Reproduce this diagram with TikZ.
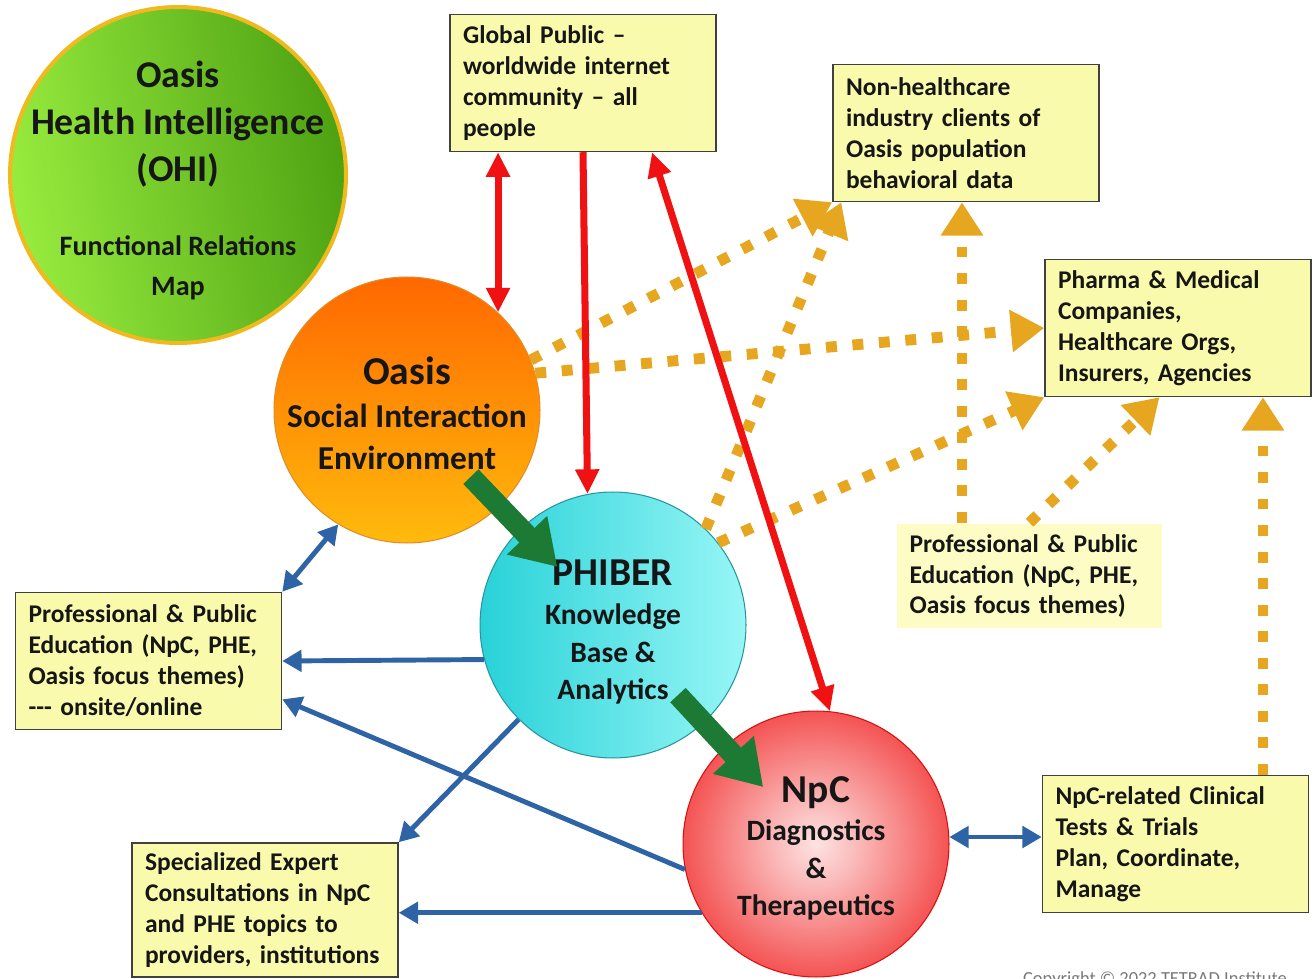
\documentclass[tikz,border=0pt]{standalone}
\usepackage{fontspec}
\setmainfont{Carlito}
\usetikzlibrary{shapes, arrows.meta, positioning, calc}

\definecolor{amarillo}{RGB}{250,250,172}
\definecolor{amarilloclaro}{RGB}{252,252,196}
\definecolor{borde}{RGB}{64,64,64}
\definecolor{tinta}{RGB}{22,22,22}
\definecolor{oro}{RGB}{230,166,32}
\definecolor{rojo}{RGB}{240,18,18}
\definecolor{azul}{RGB}{46,100,166}
\definecolor{verde}{RGB}{28,122,52}

\newcommand{\textocaja}{\bfseries\fontsize{14.5}{17.6}\selectfont}
\newcommand{\grande}{\fontsize{22.5}{27}\selectfont}
\newcommand{\medio}{\fontsize{16.8}{21.3}\selectfont}

\pgfdeclareradialshading{bolaroja}{\pgfpoint{0bp}{0bp}}{color(0bp)=(white!88!rojo); color(8bp)=(white!70!rojo); color(30bp)=(rojo!85!white); color(45bp)=(rojo); color(50bp)=(rojo)}

\tikzstyle{cuadro} = [draw=borde, fill=amarillo, line width=0.85pt, rectangle, minimum width=5.32cm, minimum height=2.74cm, text width=4.8cm, inner xsep=0.26cm, inner ysep=0pt, align=left, font=\textocaja, text=tinta]
\tikzstyle{burbuja} = [circle, minimum size=5.32cm, inner sep=-3cm, align=center, text=tinta]
\tikzstyle{punteado} = [draw=oro, line width=6.2pt, dash pattern=on 6.2pt off 8.9pt, -{Triangle[length=19pt,width=23pt]}]
\tikzstyle{flecharoja} = [draw=rojo, line width=4pt, >={Triangle[length=14pt,width=13pt]}]
\tikzstyle{flechaazul} = [draw=azul, line width=2.8pt, >={Triangle[length=11pt,width=12pt]}]
\tikzstyle{flechaverde} = [draw=verde, line width=12pt, -{Triangle[length=25pt,width=30pt]}]

\begin{document}
\begin{tikzpicture}[x=0.02cm, y=-0.02cm]
	\useasboundingbox (0,0) rectangle (1315,979);

	% circulos
	\node[burbuja, minimum size=6.72cm, font=\bfseries\fontsize{21.5}{26.8}\selectfont, draw={rgb,255:red,240;green,185;blue,30}, line width=2.3pt, left color={rgb,255:red,152;green,236;blue,62}, right color={rgb,255:red,78;green,162;blue,18}, shading angle=100] (ohi) at (178,175)
		{\rule{0pt}{21pt}Oasis\\ Health Intelligence\\ (OHI)\\[15pt] {\fontsize{16}{20}\selectfont Functional Relations}\\[-4pt] {\fontsize{16}{20}\selectfont Map}};
	\node[burbuja, font=\bfseries\fontsize{19}{24.2}\selectfont, draw={rgb,255:red,225;green,140;blue,40}, line width=0.6pt, top color={rgb,255:red,255;green,104;blue,0}, bottom color={rgb,255:red,255;green,186;blue,12}] (oasis) at (407,410)
		{\rule{0pt}{20pt}{\grande Oasis}\\ Social Interaction\\ Environment};
	\node[burbuja, font=\bfseries\medio, draw={rgb,255:red,40;green,150;blue,160}, line width=0.6pt, left color={rgb,255:red,40;green,210;blue,216}, right color={rgb,255:red,152;green,246;blue,246}] (phiber) at (613,625)
		{\rule{0pt}{22.5pt}{\grande PHIBER}\\[1pt] Knowledge\\ Base \&\\ Analytics};
	\node[burbuja, font=\bfseries\medio, draw=rojo!90!black, line width=0.6pt, shading=bolaroja] (npc) at (816,844)
		{\rule{0pt}{20pt}{\grande NpC}\\[0.5pt] Diagnostics\\ \&\\ Therapeutics};

	% cuadros
	\node[cuadro] (global) at (583,83) {Global Public --\\ worldwide internet\\ community -- all\\ people};
	\node[cuadro] (nonhealth) at (966,133) {Non-healthcare\\ industry clients of\\ Oasis population\\ behavioral data};
	\node[cuadro] (pharma) at (1178,328) {Pharma \& Medical\\ Companies,\\ Healthcare Orgs,\\ Insurers, Agencies};
	\node[cuadro, draw=none, fill=amarilloclaro, minimum height=2.1cm] (profright) at (1029.5,576) {Professional \& Public\\ Education (NpC, PHE,\\ Oasis focus themes)};
	\node[cuadro] (profleft) at (148.5,661) {Professional \& Public\\ Education (NpC, PHE,\\ Oasis focus themes)\\ -{}-{}- onsite/online};
	\node[cuadro, minimum height=2.68cm] (consult) at (265,910) {Specialized Expert\\ Consultations in NpC\\ and PHE topics to\\ providers, institutions};
	\node[cuadro] (trials) at (1175.5,844) {NpC-related Clinical\\ Tests \& Trials\\ Plan, Coordinate,\\ Manage};

	\node[anchor=base, text={rgb,255:red,120;green,120;blue,120}, font=\fontsize{10.5}{12}\selectfont] (copyright) at (1155,984) {Copyright © 2022 TETRAD Institute};

	% flechas punteadas
	\draw[punteado] (oasis.22) -- (nonhealth.south west);
	\draw[punteado] (oasis.16) -- (pharma.west);
	\draw[punteado] (phiber.46) -- ([xshift=0.18cm]nonhealth.south west);
	\draw[punteado] (phiber.38) -- (pharma.south west);
	\draw[punteado] ([xshift=-0.08cm]nonhealth.south |- profright.north) -- ([xshift=-0.08cm]nonhealth.south);
	\draw[punteado] (profright.north) -- (pharma.255);
	\draw[punteado] ([xshift=1.75cm]trials.north) -- ([xshift=1.75cm]trials.north |- pharma.south);

	% flechas rojas
	\draw[flecharoja, <->] (oasis.47 |- global.south) -- (oasis.47);
	\draw[flecharoja, ->] (global.south) -- (phiber.101);
	\draw[flecharoja, <->] ([xshift=1.38cm]global.south) -- (npc.84);

	% flechas azules
	\draw[flechaazul, <->] (oasis.239) -- (profleft.north east);
	\draw[flechaazul, ->] (phiber.195) -- (profleft.east);
	\draw[flechaazul, ->] (npc.191) -- (profleft.-16);
	\draw[flechaazul, ->] (phiber.225) -- (consult.north east);
	\draw[flechaazul, ->] (npc.211) -- (consult.east |- npc.211);
	\draw[flechaazul, <->] (npc.3) -- (trials.west |- npc.3);

	% flechas verdes
	\draw[flechaverde] ($(oasis.center)!0.31!(phiber.center)$) -- ($(oasis.center)!0.73!(phiber.center)$);
	\draw[flechaverde] ($(phiber.center)!0.32!(npc.center)$) -- ($(phiber.center)!0.74!(npc.center)$);
\end{tikzpicture}
\end{document}
